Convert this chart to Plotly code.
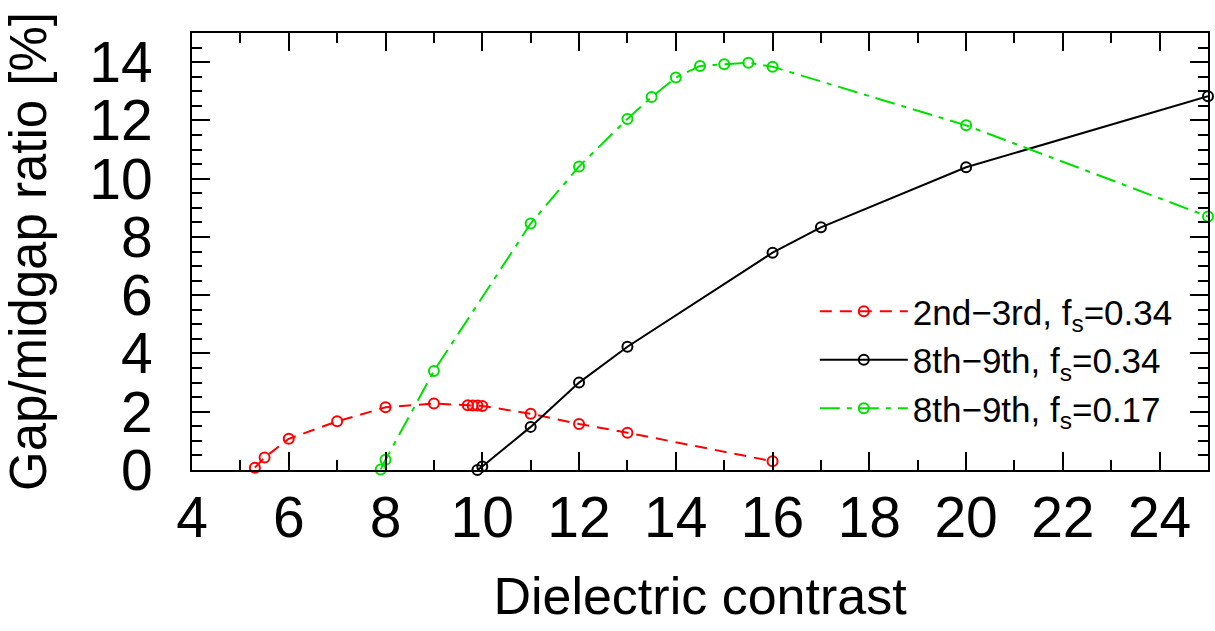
import plotly.graph_objects as go

red_x = [5.3, 5.5, 6, 7, 8, 9, 9.7, 9.8, 9.9, 10, 11, 12, 13, 16]
red_y = [0.08, 0.43, 1.07, 1.67, 2.15, 2.28, 2.22, 2.21, 2.21, 2.2, 1.93, 1.58, 1.28, 0.3]

black_x = [9.9, 10, 11, 12, 13, 16, 17, 20, 25]
black_y = [0.0, 0.12, 1.48, 3.0, 4.23, 7.46, 8.33, 10.39, 12.83]

green_x = [7.9, 8, 9, 11, 12, 13, 13.5, 14, 14.5, 15, 15.5, 16, 20, 25]
green_y = [0.02, 0.35, 3.4, 8.46, 10.42, 12.05, 12.8, 13.47, 13.87, 13.93, 13.98, 13.84, 11.83, 8.7]

x_ticks = list(range(4, 25, 2))
y_ticks = list(range(0, 15, 2))

names = ["2nd\u22123rd, f<sub>s</sub>=0.34", "8th\u22129th, f<sub>s</sub>=0.34", "8th\u22129th, f<sub>s</sub>=0.17"]

FONT = "Liberation Sans, Arial, sans-serif"

fig = go.Figure()
series = [
    (red_x, red_y, names[0], "#ff0000", "12px,8px"),
    (black_x, black_y, names[1], "#000000", "solid"),
    (green_x, green_y, names[2], "#00e000", "20px,7px,5px,7px"),
]
for xs, ys, nm, col, dash in series:
    fig.add_trace(go.Scatter(
        x=xs, y=ys, name=nm, mode="lines+markers", cliponaxis=False,
        line=dict(color=col, width=2, dash=dash),
        marker=dict(symbol="circle-open", size=10, color=col, line=dict(width=2, color=col)),
    ))

axis_common = dict(
    showline=True, linecolor="black", linewidth=2, mirror="allticks",
    ticks="inside", ticklen=18, tickwidth=2, tickcolor="black",
    showgrid=False, zeroline=False, automargin=False,
    tickfont=dict(family=FONT, size=57, color="black"),
)

fig.update_xaxes(
    range=[4, 25], tickmode="array", tickvals=x_ticks,
    minor=dict(ticks="inside", ticklen=10, tickwidth=2, tickcolor="black", dtick=1, tick0=0),
    title=dict(text="Dielectric contrast", font=dict(family=FONT, size=52, color="black"), standoff=29),
    ticklabelstandoff=-3,
    **axis_common,
)
fig.update_yaxes(
    range=[0, 15], tickmode="array", tickvals=y_ticks,
    minor=dict(ticks="inside", ticklen=10, tickwidth=2, tickcolor="black", dtick=0.5, tick0=0),
    title=dict(text="Gap/midgap ratio [%]", font=dict(family=FONT, size=51, color="black"), standoff=33),
    ticklabelstandoff=26,
    **axis_common,
)

fig.update_layout(
    width=1215, height=631,
    margin=dict(l=192, r=7, t=33, b=161, autoexpand=False),
    plot_bgcolor="white", paper_bgcolor="white",
    font=dict(family=FONT, color="black"),
    legend=dict(
        x=0.613, y=0.43, xanchor="left", yanchor="top",
        font=dict(family=FONT, size=35, color="black"),
        bgcolor="rgba(0,0,0,0)", itemwidth=88, tracegroupgap=0,
    ),
)

fig.write_html("out.html", config={"displayModeBar": False},
               post_script="document.body.style.margin='0';document.body.style.overflow='hidden';")
